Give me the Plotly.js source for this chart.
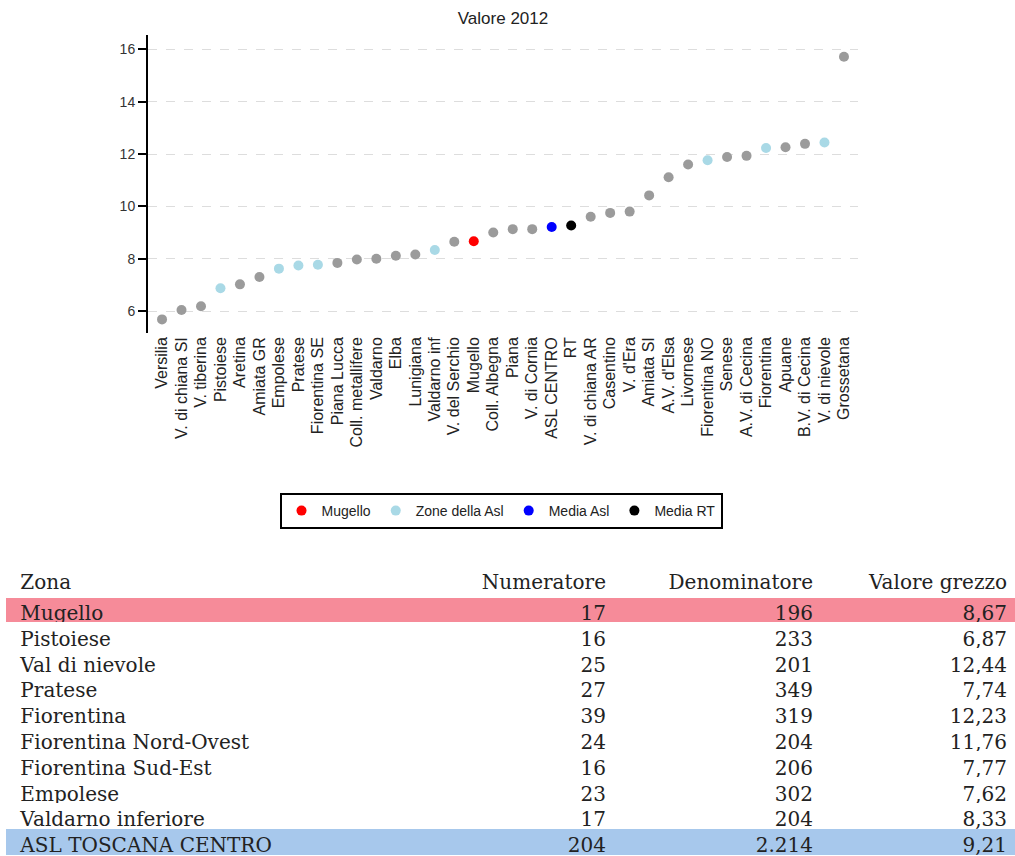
<!DOCTYPE html>
<html>
<head>
<meta charset="utf-8">
<script src="https://cdn.plot.ly/plotly-3.0.1.min.js"></script>
<style>html,body{margin:0;padding:0;background:#fff;}#chart{width:1015px;height:856px;}</style>
</head>
<body>
<div id="chart"></div>
<script>
// ---- Chart data ----
var categories = ["Versilia","V. di chiana SI","V. tiberina","Pistoiese","Aretina","Amiata GR","Empolese","Pratese","Fiorentina SE","Piana Lucca","Coll. metallifere","Valdarno","Elba","Lunigiana","Valdarno inf","V. del Serchio","Mugello","Coll. Albegna","Piana","V. di Cornia","ASL CENTRO","RT","V. di chiana AR","Casentino","V. d'Era","Amiata SI","A.V. d'Elsa","Livornese","Fiorentina NO","Senese","A.V. di Cecina","Fiorentina","Apuane","B.V. di Cecina","V. di nievole","Grossetana"];
var values = [5.68,6.04,6.18,6.87,7.02,7.30,7.62,7.74,7.77,7.84,7.97,8.00,8.11,8.16,8.33,8.65,8.67,9.00,9.13,9.13,9.21,9.27,9.60,9.75,9.80,10.42,11.11,11.60,11.76,11.89,11.93,12.23,12.26,12.39,12.44,15.72];
var groups = ["altre","altre","altre","asl","altre","altre","asl","asl","asl","altre","altre","altre","altre","altre","asl","altre","mugello","altre","altre","altre","mediaasl","mediart","altre","altre","altre","altre","altre","altre","asl","altre","altre","asl","altre","altre","asl","altre"];
var yTicks = [6,8,10,12,14,16];

// ---- Table data ----
var tableHeader = ["Zona","Numeratore","Denominatore","Valore grezzo"];
var zone = ["Mugello","Pistoiese","Val di nievole","Pratese","Fiorentina","Fiorentina Nord-Ovest","Fiorentina Sud-Est","Empolese","Valdarno inferiore","ASL TOSCANA CENTRO"];
var numeratore = ["17","16","25","27","39","24","16","23","17","204"];
var denominatore = ["196","233","201","349","319","204","206","302","204","2.214"];
var valoreGrezzo = ["8,67","6,87","12,44","7,74","12,23","11,76","7,77","7,62","8,33","9,21"];

var groupDefs = [
  {key:"altre", name:"Altre zone", color:"#9b9b9b", legend:false},
  {key:"mugello", name:"Mugello", color:"#ff0000", legend:true},
  {key:"asl", name:"Zone della Asl", color:"#a9d9e6", legend:true},
  {key:"mediaasl", name:"Media Asl", color:"#0000ff", legend:true},
  {key:"mediart", name:"Media RT", color:"#000000", legend:true}
];

var traces = groupDefs.map(function(g){
  var xs=[], ys=[];
  for (var i=0;i<categories.length;i++){ if(groups[i]===g.key){ xs.push(categories[i]); ys.push(values[i]); } }
  return {type:"scatter", mode:"markers", x:xs, y:ys, name:g.name, showlegend:g.legend,
          marker:{color:g.color, size:10}, xaxis:"x", yaxis:"y", hoverinfo:"x+y"};
});

var rowFill = zone.map(function(z,i){
  if(i===0) return "#f68b99";
  if(i===zone.length-1) return "#a7c8ec";
  return "#ffffff";
});
var NB = "\u00a0";
var zoneCells = zone.map(function(z){ return NB + z; });

var tableFont = {family:"DejaVu Serif, serif", size:20, color:"#222"};
traces.push({
  type:"table",
  domain:{x:[6/1015,1], y:[0, 1-566/856]},
  columnwidth:[449,159,207,194],
  header:{values:[NB+tableHeader[0], tableHeader[1], tableHeader[2], tableHeader[3]], align:["left","right","right","right"], height:31,
          fill:{color:"#ffffff"}, line:{color:"#ffffff", width:1},
          font:tableFont},
  cells:{values:[zoneCells, numeratore, denominatore, valoreGrezzo], align:["left","right","right","right"], height:25.8,
         fill:{color:[rowFill,rowFill,rowFill,rowFill]}, line:{color:[rowFill,rowFill,rowFill,rowFill], width:1},
         font:tableFont}
});

var W=1015, H=856;
var layout = {
  width:W, height:H,
  margin:{l:0,r:0,t:0,b:0},
  paper_bgcolor:"#fff", plot_bgcolor:"#fff",
  font:{family:"Liberation Sans, Arial, sans-serif", color:"#222"},
  title:{text:"Valore 2012", x:503/W, xref:"container", xanchor:"center", y:1-18/H, yref:"container", yanchor:"middle",
         font:{size:17, color:"#222"}},
  xaxis:{domain:[148/W, 858/W], type:"category", categoryorder:"array", categoryarray:categories,
         tickmode:"array", tickvals:categories, ticktext:categories,
         range:[-0.72, 35.72], showline:false, showgrid:false, zeroline:false, ticks:"",
         tickangle:-90, tickfont:{size:16, color:"#222"}, fixedrange:true},
  yaxis:{domain:[1-333/H, 1-35/H], range:[5.16, 16.55], tickvals:yTicks, ticktext:yTicks.map(String),
         showline:true, linecolor:"#000", linewidth:2, ticks:"outside", ticklen:8, tickwidth:2, tickcolor:"#000",
         showgrid:true, gridcolor:"#dddddd", griddash:"dash", gridwidth:1, zeroline:false,
         tickfont:{size:14, color:"#333"}, fixedrange:true},
  showlegend:true,
  legend:{orientation:"h", x:501/W, xanchor:"center", y:1-493/H, yanchor:"top",
          bordercolor:"#000", borderwidth:2, bgcolor:"#fff", font:{size:14, color:"#222"},
          traceorder:"normal"}
};

Plotly.newPlot("chart", traces, layout, {displayModeBar:false, staticPlot:true});
</script>
</body>
</html>
